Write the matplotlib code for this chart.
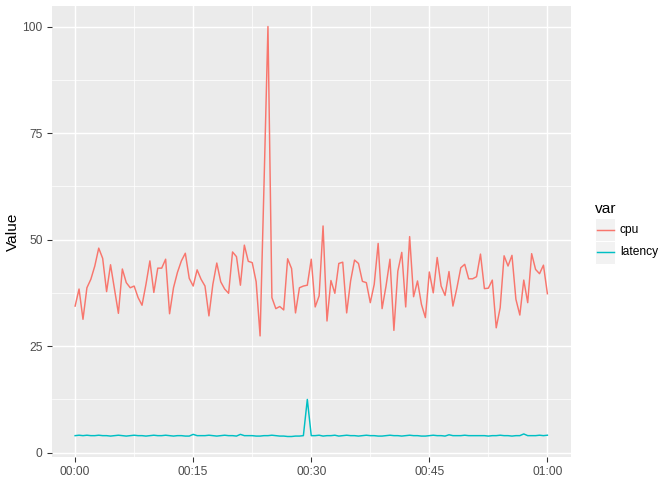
import numpy as np
import matplotlib
matplotlib.use("Agg")
import matplotlib.pyplot as plt
from matplotlib.patches import Rectangle
from matplotlib.lines import Line2D

plt.rcParams['font.family'] = ['Liberation Sans', 'DejaVu Sans']

# one sample every 30 seconds over one hour (minutes)
minutes = np.arange(121) * 0.5

cpu = [34.4, 38.4, 31.3, 38.7, 40.7, 43.8, 48.0, 45.6, 37.8, 44.1,
       38.4, 32.7, 43.1, 39.9, 38.7, 39.1, 36.4, 34.6, 39.5, 45.0,
       37.6, 43.3, 43.3, 45.4, 32.6, 38.7, 42.3, 45.0, 46.8, 40.9,
       39.1, 42.9, 40.7, 39.1, 32.1, 39.5, 44.5, 40.1, 38.4, 37.4,
       47.1, 46.0, 39.3, 48.7, 44.9, 44.6, 40.1, 27.4, 63.0, 100.0,
       36.4, 33.8, 34.3, 33.5, 45.5, 43.2, 32.8, 38.7, 39.1, 39.3,
       45.4, 34.2, 36.8, 53.2, 30.9, 40.4, 37.4, 44.4, 44.7, 32.8,
       40.3, 45.2, 44.4, 40.2, 39.9, 35.2, 39.5, 49.1, 33.8, 39.1,
       45.4, 28.7, 42.6, 47.0, 34.2, 50.7, 36.6, 40.3, 34.8, 31.7,
       42.4, 37.5, 45.8, 39.1, 36.9, 42.5, 34.4, 38.6, 43.4, 44.2,
       40.8, 40.8, 41.3, 46.6, 38.5, 38.6, 40.5, 29.3, 34.0, 46.2,
       43.8, 46.3, 36.0, 32.3, 40.5, 35.2, 46.7, 43.0, 42.0, 44.0,
       37.3]

latency = [4.0, 4.1, 4.0, 4.1, 4.0, 4.0, 4.1, 4.0, 4.0, 3.9,
           4.0, 4.1, 4.0, 3.9, 4.0, 4.1, 4.0, 4.0, 3.9, 4.0,
           4.1, 4.0, 4.0, 4.1, 4.0, 3.9, 4.0, 4.0, 3.9, 3.9,
           4.3, 4.0, 4.0, 4.0, 4.1, 4.0, 3.9, 4.0, 4.1, 4.0,
           4.0, 3.9, 4.3, 4.0, 4.0, 4.0, 3.9, 3.9, 4.0, 4.0,
           4.1, 4.0, 3.9, 3.9, 3.8, 3.8, 3.9, 3.9, 4.0, 12.5,
           4.0, 4.0, 4.1, 3.9, 4.0, 4.0, 4.1, 3.9, 4.0, 4.1,
           4.0, 4.0, 3.9, 4.0, 4.1, 4.0, 4.0, 3.9, 3.9, 4.0,
           4.1, 4.0, 4.0, 3.9, 4.0, 4.1, 4.0, 4.0, 3.9, 3.9,
           4.0, 4.1, 4.0, 4.0, 3.9, 4.2, 4.0, 4.0, 4.0, 4.1,
           4.0, 4.0, 4.0, 4.0, 4.0, 3.9, 4.0, 4.0, 4.1, 4.0,
           4.0, 3.9, 4.0, 4.0, 4.4, 4.0, 4.0, 4.0, 4.1, 4.0,
           4.1]

series = ['cpu', 'latency']
colors = {'cpu': '#F8766D', 'latency': '#00BFC4'}
xticks = [0, 15, 30, 45, 60]
xlabels = ['00:00', '00:15', '00:30', '00:45', '01:00']
yticks = [0, 25, 50, 75, 100]

fig = plt.figure(figsize=(7, 5), dpi=96)
ax = fig.add_axes([51.5 / 672, 1 - 457 / 480, (571 - 51.5) / 672, (457 - 6) / 480])
ax.set_facecolor('#EBEBEB')

ax.plot(minutes, cpu, color=colors['cpu'], lw=1.1, zorder=3)
ax.plot(minutes, latency, color=colors['latency'], lw=1.1, zorder=3)
ax.margins(x=0.05, y=0.05)

ax.set_xticks(xticks)
ax.set_xticklabels(xlabels)
ax.set_yticks(yticks)
ax.set_xticks([7.5, 22.5, 37.5, 52.5], minor=True)
ax.set_yticks([12.5, 37.5, 62.5, 87.5], minor=True)
ax.grid(which='major', color='white', lw=1.1)
ax.grid(which='minor', color='white', lw=0.55)
ax.set_axisbelow(True)
for s in ax.spines.values():
    s.set_visible(False)
ax.tick_params(which='major', length=3.7, width=0.8, color='#333333',
               labelsize=9, labelcolor='#4D4D4D', pad=3)
ax.tick_params(which='minor', length=0)
ax.set_ylabel('Value', fontsize=11.5, labelpad=2)

# legend drawn by hand in ggplot style
fig.text(595 / 672, 1 - 209 / 480, 'var', fontsize=11.5, va='center', ha='left')
for k, name in enumerate(series):
    yc = 229.5 + 23 * k
    fig.patches.append(Rectangle((595 / 672, 1 - (yc + 11.5) / 480), 20 / 672, 23 / 480,
                                 transform=fig.transFigure, facecolor='#F2F2F2',
                                 edgecolor='white', lw=0.8))
    fig.lines.append(Line2D([596.5 / 672, 613.5 / 672], [1 - yc / 480] * 2,
                            transform=fig.transFigure, color=colors[name], lw=1.1))
    fig.text(620 / 672, 1 - yc / 480, name, fontsize=9, va='center', ha='left')

fig.savefig('out.png', dpi=96)
